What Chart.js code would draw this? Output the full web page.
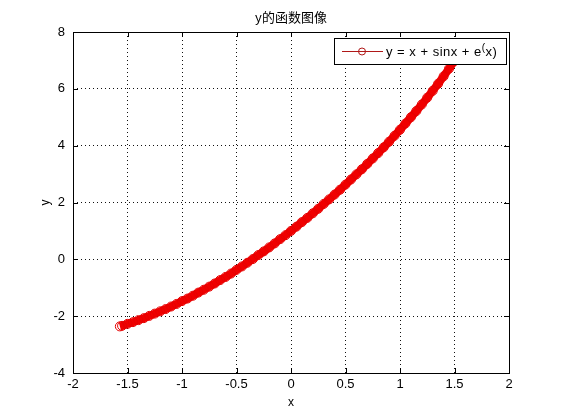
<!DOCTYPE html>
<html>
<head>
<meta charset="utf-8">
<script src="https://cdn.jsdelivr.net/npm/chart.js@4/dist/chart.umd.min.js"></script>
<style>
  html, body { margin: 0; padding: 0; background: #fff; }
  #wrap { width: 561px; height: 420px; }
</style>
</head>
<body>
<div id="wrap"><canvas id="myChart" width="561" height="420"></canvas></div>
<script>
// values: y = x + sinx + e^(x)
const xValues = [-1.57,-1.55,-1.5,-1.45,-1.4,-1.35,-1.3,-1.25,-1.2,-1.15,-1.1,-1.05,-1,-0.95,-0.9,-0.85,-0.8,-0.75,-0.7,-0.65,-0.6,-0.55,-0.5,-0.45,-0.4,-0.35,-0.3,-0.25,-0.2,-0.15,-0.1,-0.05,0,0.05,0.1,0.15,0.2,0.25,0.3,0.35,0.4,0.45,0.5,0.55,0.6,0.65,0.7,0.75,0.8,0.85,0.9,0.95,1,1.05,1.1,1.15,1.2,1.25,1.3,1.35,1.4,1.45,1.5,1.55,1.57];
const yValues = [-2.36,-2.34,-2.27,-2.21,-2.14,-2.07,-1.99,-1.91,-1.83,-1.75,-1.66,-1.57,-1.47,-1.38,-1.28,-1.17,-1.07,-0.96,-0.85,-0.73,-0.62,-0.50,-0.37,-0.25,-0.12,0.01,0.15,0.28,0.42,0.56,0.71,0.85,1.00,1.15,1.31,1.46,1.62,1.78,1.95,2.11,2.28,2.45,2.63,2.81,2.99,3.17,3.36,3.55,3.74,3.94,4.14,4.35,4.56,4.78,5.00,5.22,5.45,5.69,5.93,6.18,6.44,6.71,6.98,7.26,7.38];
const xTicks = [-2,-1.5,-1,-0.5,0,0.5,1,1.5,2];
const yTicks = [-4,-2,0,2,4,6,8];
const chartTitle = 'y的函数图像';
const seriesLabel = 'y = x + sinx + e^(x)';

const points = xValues.map((x, i) => ({ x: x, y: yValues[i] }));
const FONT = '"Liberation Sans", Arial, sans-serif';

// title, box, inner ticks and the legend, MATLAB style
const matlabAxes = {
    id: 'matlabAxes',
    afterDatasetsDraw(chart) {
        const ctx = chart.ctx;
        const a = chart.chartArea;
        const sx = chart.scales.x, sy = chart.scales.y;
        ctx.save();

        ctx.fillStyle = '#000';
        ctx.textAlign = 'center';
        ctx.textBaseline = 'middle';
        ctx.font = '13px "Noto Sans CJK SC", sans-serif';
        ctx.fillText(chartTitle, (a.left + a.right) / 2, 17);

        ctx.strokeStyle = '#000';
        ctx.lineWidth = 1;
        ctx.beginPath();
        xTicks.forEach(t => {
            const px = Math.round(sx.getPixelForValue(t)) + 0.5;
            ctx.moveTo(px, a.bottom); ctx.lineTo(px, a.bottom - 5);
            ctx.moveTo(px, a.top); ctx.lineTo(px, a.top + 5);
        });
        yTicks.forEach(t => {
            const py = Math.round(sy.getPixelForValue(t)) + 0.5;
            ctx.moveTo(a.left, py); ctx.lineTo(a.left + 5, py);
            ctx.moveTo(a.right, py); ctx.lineTo(a.right - 5, py);
        });
        ctx.stroke();
        ctx.strokeRect(Math.round(a.left) + 0.5, Math.round(a.top) + 0.5,
            Math.round(a.right - a.left), Math.round(a.bottom - a.top));

        // legend box
        const bx = 334, by = 38, bw = 172, bh = 26;
        ctx.fillStyle = '#fff';
        ctx.fillRect(bx, by, bw, bh);
        ctx.strokeRect(bx + 0.5, by + 0.5, bw, bh);
        const cy = by + bh / 2 + 0.5;
        ctx.strokeStyle = '#b01818';
        ctx.beginPath();
        ctx.moveTo(bx + 8, cy); ctx.lineTo(bx + 49, cy);
        ctx.stroke();
        ctx.beginPath();
        ctx.arc(bx + 28, cy, 3.5, 0, Math.PI * 2);
        ctx.stroke();
        // text with TeX-like superscript "("
        const parts = seriesLabel.split('^');
        ctx.fillStyle = '#000';
        ctx.textAlign = 'left';
        ctx.letterSpacing = '0.5px';
        ctx.font = '13px ' + FONT;
        let tx = bx + 52;
        ctx.fillText(parts[0], tx, cy + 1);
        tx += ctx.measureText(parts[0]).width;
        ctx.font = '10px ' + FONT;
        ctx.fillText(parts[1].charAt(0), tx, cy - 3);
        tx += ctx.measureText(parts[1].charAt(0)).width;
        ctx.font = '13px ' + FONT;
        ctx.fillText(parts[1].slice(1), tx, cy + 1);
        ctx.restore();
    }
};

const ctx = document.getElementById('myChart').getContext('2d');
new Chart(ctx, {
    type: 'scatter',
    data: {
        datasets: [{
            label: seriesLabel,
            data: points,
            showLine: true,
            borderColor: '#f00000',
            borderWidth: 8,
            pointStyle: 'circle',
            pointRadius: 4.5,
            pointBorderWidth: 1,
            pointBorderColor: '#e60000',
            pointBackgroundColor: 'rgba(0,0,0,0)',
            tension: 0
        }]
    },
    options: {
        responsive: false,
        animation: false,
        layout: { padding: { left: 0, right: 52, top: 32, bottom: 0 } },
        plugins: {
            legend: { display: false },
            tooltip: { enabled: false },
            title: { display: false }
        },
        scales: {
            x: {
                type: 'linear',
                min: -2, max: 2,
                afterFit: s => { s.height = 47; },
                afterBuildTicks: s => { s.ticks = xTicks.map(v => ({ value: v })); },
                border: { display: false, dash: [1, 3] },
                grid: { color: '#111', drawTicks: false, lineWidth: 1 },
                ticks: { color: '#000', padding: 4, font: { family: FONT, size: 13 }, maxRotation: 0,
                         callback: v => String(v) },
                title: { display: true, text: 'x', color: '#000', font: { family: FONT, size: 12 }, padding: { top: 0, bottom: 9.8 } }
            },
            y: {
                type: 'linear',
                min: -4, max: 8,
                afterFit: s => { s.width = 73; },
                afterBuildTicks: s => { s.ticks = yTicks.map(v => ({ value: v })); },
                border: { display: false, dash: [1, 3] },
                grid: { color: '#111', drawTicks: false, lineWidth: 1 },
                ticks: { color: '#000', padding: 8, font: { family: FONT, size: 13 },
                         callback: v => String(v) },
                title: { display: true, text: 'y', color: '#000', font: { family: FONT, size: 12 }, padding: { top: 38, bottom: 0 } }
            }
        }
    },
    plugins: [matlabAxes]
});
</script>
</body>
</html>
